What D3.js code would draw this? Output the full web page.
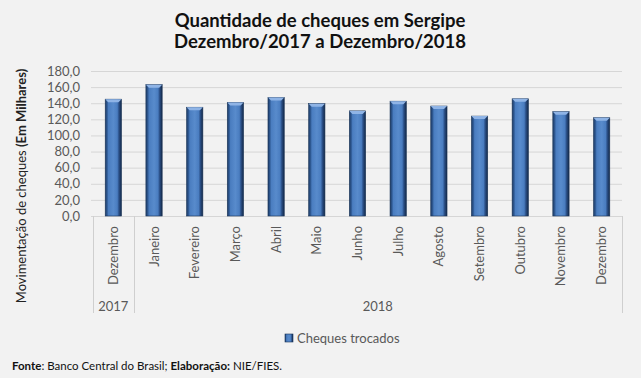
<!DOCTYPE html>
<html>
<head>
<meta charset="utf-8">
<script src="https://cdn.jsdelivr.net/npm/d3@7"></script>
<style>
  body { margin: 0; background: #f2f2f2; }
  svg { display: block; font-family: Lato, "Open Sans", sans-serif; }
</style>
</head>
<body>
<div id="grafico"></div>
<script>
// dados
var meses = ["Dezembro", "Janeiro", "Fevereiro", "Março", "Abril", "Maio", "Junho",
             "Julho", "Agosto", "Setembro", "Outubro", "Novembro", "Dezembro"];
var anos = ["2017", "2018", "2018", "2018", "2018", "2018", "2018",
            "2018", "2018", "2018", "2018", "2018", "2018"];
var cheques = [145.0, 163.0, 135.0, 141.0, 147.0, 139.5, 130.5,
               142.5, 136.5, 124.0, 145.5, 129.5, 122.0];
var ticksY = [0, 20, 40, 60, 80, 100, 120, 140, 160, 180];

var W = 641, H = 378;
var m = {top: 71, right: 19, bottom: 162, left: 93};

var svg = d3.select("#grafico").append("svg")
    .attr("width", W)
    .attr("height", H);

svg.append("rect").attr("width", W).attr("height", H).attr("fill", "#f2f2f2");

var ids = d3.range(meses.length);

var x = d3.scaleBand()
    .domain(ids)
    .range([m.left, W - m.right])
    .paddingInner(0.6)
    .paddingOuter(0.3);

var y = d3.scaleLinear()
    .domain([0, 180])
    .range([H - m.bottom, m.top]);

var br = d3.formatLocale({decimal: ",", thousands: ".", grouping: [3], currency: ["R$", ""]});
var fmt = br.format(".1f");

// gradientes para o efeito de bisel
var defs = svg.append("defs");
var grad = defs.append("linearGradient").attr("id", "barra")
    .attr("x1", "0%").attr("x2", "100%").attr("y1", "0%").attr("y2", "0%");
[["0%", "#1d3b66"], ["12%", "#2f5a94"], ["20%", "#4a7dc0"], ["50%", "#588bcc"],
 ["74%", "#4a7dc0"], ["84%", "#2b5088"], ["100%", "#132846"]].forEach(function(s) {
    grad.append("stop").attr("offset", s[0]).attr("stop-color", s[1]);
});

// titulo
var titulo = svg.append("text")
    .attr("x", 320).attr("text-anchor", "middle")
    .style("font-weight", "bold").style("font-size", "18.5px").attr("fill", "#111");
titulo.append("tspan").attr("x", 320).attr("y", 27).text("Quantidade de cheques em Sergipe");
titulo.append("tspan").attr("x", 320).attr("y", 48).text("Dezembro/2017 a Dezembro/2018");

// grade
svg.append("g").selectAll("line")
    .data(ticksY)
    .enter().append("line")
    .attr("x1", m.left - 2).attr("x2", W - m.right)
    .attr("y1", function(d) { return y(d) + 0.5; })
    .attr("y2", function(d) { return y(d) + 0.5; })
    .attr("stroke", "#d6d6d6").attr("stroke-width", 1);

// eixo y
var eixoY = svg.append("g")
    .attr("transform", "translate(" + (m.left - 13) + ",0)")
    .call(d3.axisLeft(y).tickValues(ticksY).tickFormat(fmt).tickSize(0).tickPadding(0));
eixoY.select(".domain").remove();
eixoY.selectAll("text")
    .style("font-family", "Lato, sans-serif").style("font-size", "13px").attr("fill", "#595959");

// titulo do eixo y
var tituloY = svg.append("text")
    .attr("transform", "translate(26,186) rotate(-90)")
    .attr("text-anchor", "middle")
    .style("font-size", "13px").attr("fill", "#222");
tituloY.append("tspan").text("Movimentação de cheques ");
tituloY.append("tspan").style("font-weight", "bold").text("(Em Milhares)");

// barras
var barras = svg.append("g").selectAll("g")
    .data(ids)
    .enter().append("g");

barras.append("rect")
    .attr("x", function(i) { return x(i); })
    .attr("y", function(i) { return y(cheques[i]); })
    .attr("width", x.bandwidth())
    .attr("height", function(i) { return y(0) - y(cheques[i]); })
    .attr("fill", "url(#barra)")
    .attr("stroke", "#1a3457").attr("stroke-width", 0.6);

// bisel superior
barras.append("path")
    .attr("d", function(i) {
        var x0 = x(i), x1 = x(i) + x.bandwidth(), t = y(cheques[i]), b = 3;
        return "M" + x0 + "," + t + "L" + x1 + "," + t + "L" + (x1 - b) + "," + (t + b) +
            "L" + (x0 + b) + "," + (t + b) + "Z";
    })
    .attr("fill", "#8fb4e6");

// separadores do eixo x
var limites = [m.left, x(1) - x.step() * x.paddingInner() / 2, W - m.right];
svg.append("g").selectAll("line")
    .data(limites)
    .enter().append("line")
    .attr("x1", function(d) { return Math.round(d) + 0.5; })
    .attr("x2", function(d) { return Math.round(d) + 0.5; })
    .attr("y1", y(0)).attr("y2", 313)
    .attr("stroke", "#cfcfcf");

// rotulos dos meses
svg.append("g").selectAll("text")
    .data(ids)
    .enter().append("text")
    .attr("transform", function(i) {
        return "translate(" + (x(i) + x.bandwidth() / 2 + 4.5) + "," + (y(0) + 10) + ") rotate(-90)";
    })
    .attr("text-anchor", "end")
    .style("font-size", "13px").attr("fill", "#595959")
    .text(function(i) { return meses[i]; });

// rotulos dos anos
var grupos = d3.groups(ids, function(i) { return anos[i]; });
svg.append("g").selectAll("text")
    .data(grupos)
    .enter().append("text")
    .attr("x", function(g) {
        var a = g[1][0], b = g[1][g[1].length - 1];
        var ini = a === 0 ? m.left : x(a) - x.step() * x.paddingInner() / 2;
        var fim = b === ids.length - 1 ? W - m.right : x(b) + x.bandwidth() + x.step() * x.paddingInner() / 2;
        return (ini + fim) / 2;
    })
    .attr("y", 311)
    .attr("text-anchor", "middle")
    .style("font-size", "13px").attr("fill", "#595959")
    .text(function(g) { return g[0]; });

// legenda
var leg = svg.append("g").attr("transform", "translate(285,334)");
leg.append("rect").attr("width", 8).attr("height", 8)
    .attr("fill", "url(#barra)").attr("stroke", "#1a3457").attr("stroke-width", 0.6);
leg.append("text").attr("x", 12).attr("y", 8.5)
    .style("font-size", "13px").attr("fill", "#595959")
    .text("Cheques trocados");

// fonte
var fonte = svg.append("text").attr("x", 12).attr("y", 370)
    .style("font-size", "11.5px").attr("fill", "#111");
fonte.append("tspan").style("font-weight", "bold").text("Fonte");
fonte.append("tspan").text(": Banco Central do Brasil; ");
fonte.append("tspan").style("font-weight", "bold").text("Elaboração:");
fonte.append("tspan").text(" NIE/FIES.");
</script>
</body>
</html>
